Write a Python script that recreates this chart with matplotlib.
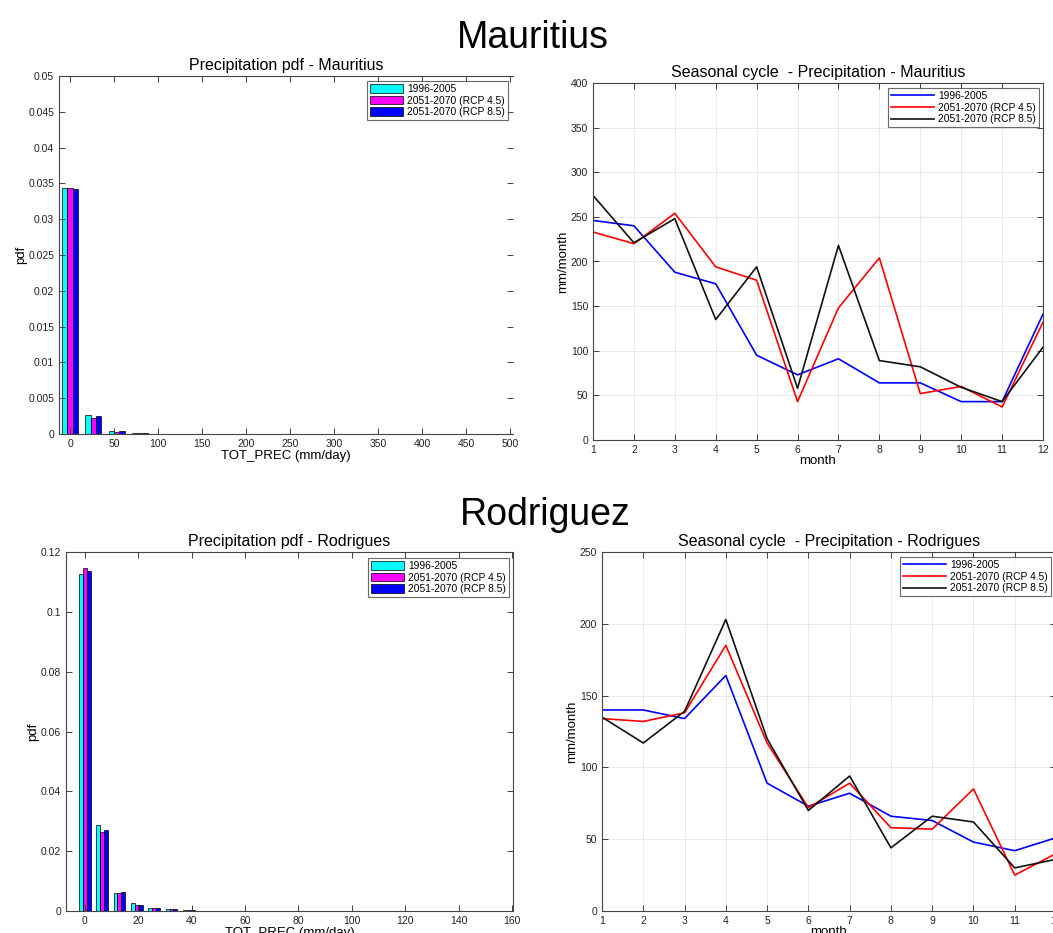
import numpy as np
import matplotlib.pyplot as plt
from matplotlib.ticker import FuncFormatter

plt.rcParams['font.family'] = ['Liberation Sans', 'DejaVu Sans']

# ---- data ----
labels = ['1996-2005', '2051-2070 (RCP 4.5)', '2051-2070 (RCP 8.5)']

# pdf - Mauritius (bin centres in mm/day)
mau_bins = [0, 26.5, 53, 79.5, 106, 132.5]
mau_hist = [0.0344, 0.0026, 0.0004, 0.0001, 0.00005, 0.00003]
mau_rcp45 = [0.0344, 0.0023, 0.0003, 0.00015, 0.00004, 0.00002]
mau_rcp85 = [0.0342, 0.0025, 0.0004, 0.0001, 0.00004, 0.00002]

# pdf - Rodrigues
rod_bins = [0, 6.5, 13, 19.5, 26, 32.5, 39, 45.5, 52, 58.5]
rod_hist = [0.1126, 0.0287, 0.0059, 0.0026, 0.0010, 0.0008, 0.0002, 0.0001, 0.0001, 0.00005]
rod_rcp45 = [0.1146, 0.0265, 0.0059, 0.0020, 0.0010, 0.0008, 0.0002, 0.0001, 0.0001, 0.00005]
rod_rcp85 = [0.1135, 0.0271, 0.0065, 0.0020, 0.0010, 0.0007, 0.0003, 0.0001, 0.0001, 0.00005]

months = np.arange(1, 13)
# seasonal cycle - Mauritius (mm/month)
mau_sc_hist = [246, 240, 188, 175, 95, 73, 91, 64, 64, 43, 43, 141]
mau_sc_45 = [233, 220, 254, 194, 179, 43, 148, 204, 52, 60, 37, 132]
mau_sc_85 = [274, 221, 248, 135, 194, 58, 218, 89, 82, 59, 43, 104]

# seasonal cycle - Rodrigues
rod_sc_hist = [140, 140, 134, 164, 89, 73, 82, 66, 63, 48, 42, 51]
rod_sc_45 = [134, 132, 138, 185, 117, 72, 89, 58, 57, 85, 25, 40]
rod_sc_85 = [135, 117, 139, 203, 120, 70, 94, 44, 66, 62, 30, 36]

W, H = 1053, 933
fig = plt.figure(figsize=(W / 100, H / 100), dpi=100)


def px_axes(l, r, t, b):
    return fig.add_axes([l / W, 1 - b / H, (r - l) / W, (b - t) / H])


def style(ax):
    for s in ax.spines.values():
        s.set_color('#444444')
        s.set_linewidth(0.8)
    ax.tick_params(direction='in', top=True, right=True, length=4,
                   labelsize=7.5, colors='#222222', width=0.6)


fmt = FuncFormatter(lambda v, p: '%g' % v)


def add_legend(ax, anchor, hl, hh=0.7):
    leg = ax.legend(loc='upper right', bbox_to_anchor=anchor,
                    bbox_transform=fig.transFigure, fontsize=7.4, fancybox=False,
                    handlelength=hl, handleheight=hh, borderpad=0.3,
                    labelspacing=0.15, handletextpad=0.4, borderaxespad=0)
    leg.get_frame().set_edgecolor('#444444')
    leg.get_frame().set_linewidth(0.8)


def pdf_panel(ax, bins, a, b, c, bw, title, xlim, ylim, xticks, yticks, leg_anchor):
    bins = np.array(bins)
    ax.bar(bins - bw, a, bw, color='#00ffff', edgecolor='k', linewidth=0.5, label=labels[0])
    ax.bar(bins, b, bw, color='#ff00ff', edgecolor='k', linewidth=0.5, label=labels[1])
    ax.bar(bins + bw, c, bw, color='#0000ff', edgecolor='k', linewidth=0.5, label=labels[2])
    ax.set_xlim(xlim)
    ax.set_ylim(ylim)
    ax.set_xticks(xticks)
    ax.set_yticks(yticks)
    ax.yaxis.set_major_formatter(fmt)
    style(ax)
    ax.set_title(title, fontsize=11.5, pad=4)
    ax.set_ylabel('pdf', fontsize=9.5, labelpad=1)
    ax.set_xlabel('TOT_PREC (mm/day)', fontsize=9.5, labelpad=1)
    add_legend(ax, leg_anchor, 3.2, 0.9)


def sc_panel(ax, a, b, c, title, ylim, yticks, leg_anchor):
    ax.plot(months, a, color='#0000ff', lw=1.2, label=labels[0])
    ax.plot(months, b, color='#ff0000', lw=1.2, label=labels[1])
    ax.plot(months, c, color='#111111', lw=1.2, label=labels[2])
    ax.set_xlim(1, 12)
    ax.set_ylim(ylim)
    ax.set_xticks(months)
    ax.set_yticks(yticks)
    ax.grid(True, color='#e8e8e8', lw=0.7)
    ax.set_axisbelow(True)
    style(ax)
    ax.set_title(title, fontsize=11.5, pad=4)
    ax.set_ylabel('mm/month', fontsize=9.5, labelpad=1)
    ax.set_xlabel('month', fontsize=9.5, labelpad=0)
    add_legend(ax, leg_anchor, 4.2)


ax1 = px_axes(59, 513, 76, 434)
pdf_panel(ax1, mau_bins, mau_hist, mau_rcp45, mau_rcp85, 6.0,
          'Precipitation pdf - Mauritius', (-12.5, 503), (0, 0.05),
          np.arange(0, 501, 50), np.arange(0, 0.0501, 0.005),
          (508 / W, 1 - 81 / H))
ax1.spines['right'].set_visible(False)

ax2 = px_axes(593, 1043, 83, 440)
sc_panel(ax2, mau_sc_hist, mau_sc_45, mau_sc_85,
         'Seasonal cycle  - Precipitation - Mauritius', (0, 400),
         np.arange(0, 401, 50), (1039 / W, 1 - 88 / H))

ax3 = px_axes(66, 513, 552, 911)
pdf_panel(ax3, rod_bins, rod_hist, rod_rcp45, rod_rcp85, 1.45,
          'Precipitation pdf - Rodrigues', (-7, 160.3), (0, 0.12),
          np.arange(0, 161, 20), np.arange(0, 0.1201, 0.02),
          (509 / W, 1 - 558 / H))

ax4 = px_axes(602, 1056, 552, 911)
sc_panel(ax4, rod_sc_hist, rod_sc_45, rod_sc_85,
         'Seasonal cycle  - Precipitation - Rodrigues', (0, 250),
         np.arange(0, 251, 50), (1051 / W, 1 - 557 / H))

fig.text(533 / W, 1 - 38 / H, 'Mauritius', fontsize=27, ha='center', va='center')
fig.text(545 / W, 1 - 515 / H, 'Rodriguez', fontsize=27, ha='center', va='center')

fig.savefig('out.png', dpi=100, facecolor='white')
